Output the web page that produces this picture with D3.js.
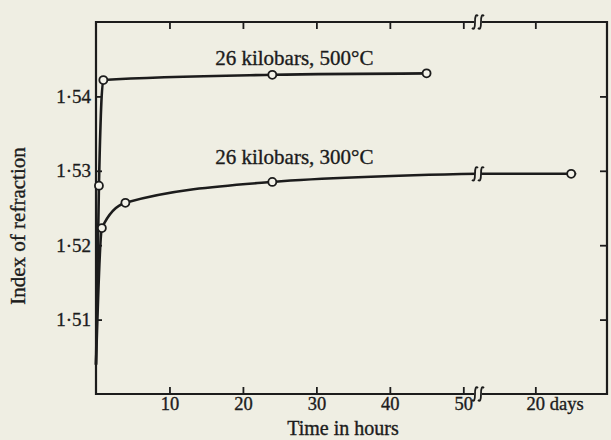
<!DOCTYPE html>
<html><head><meta charset="utf-8">
<script src="https://cdn.jsdelivr.net/npm/d3@7/dist/d3.min.js"></script>
<style>
html,body{margin:0;padding:0;background:#efeee3;}
svg{display:block;}
text{font-family:"Liberation Serif","Times New Roman",serif;fill:#1c1c1c;stroke:#1c1c1c;stroke-width:0.35px;}
</style></head>
<body><svg id="c" width="611" height="440"></svg>
<script>
// ---- data ----
const hourTicks = [10, 20, 30, 40, 50];
const dayTicks = [20];
const indexTicks = [1.51, 1.52, 1.53, 1.54];
// [hours, index, marked]
const series500 = [[0, 1.504, false], [0.4, 1.528, true], [1, 1.5422, true], [24, 1.5429, true], [45, 1.5431, true]];
const series300Hours = [[0, 1.504, false], [0.8, 1.5223, true], [4, 1.5257, true], [24, 1.5285, true], [52, 1.5296, false]];
// [days, index, marked]
const series300Days = [[12, 1.5296, false], [25, 1.5296, true]];
const label500 = "26 kilobars, 500°C";
const label300 = "26 kilobars, 300°C";
const xTitle = "Time in hours";
const yTitle = "Index of refraction";

// ---- layout ----
const L = 96, T = 22, R = 607, B = 394, BRK = 478;
const ink = "#1c1c1c";
const paper = "#efeee3";
const svg = d3.select("#c");
svg.append("rect").attr("width", 611).attr("height", 440).attr("fill", paper);

const x = d3.scaleLinear().domain([0, 52]).range([L, BRK]);
const xd = d3.scaleLinear().domain([12, 30]).range([BRK, R]);
const y = d3.scaleLinear().domain([1.50, 1.55]).range([B, T]);

const fmtIdx = d => d.toFixed(2).replace(".", "·");

function styleAxis(g, size) {
  g.select(".domain").remove();
  g.selectAll("line").attr("stroke", ink).attr("stroke-width", 1.8);
  g.selectAll("text").attr("font-size", size || 19).attr("font-family", "Liberation Serif").attr("fill", ink);
}
svg.append("g").attr("transform", `translate(${L},0)`)
  .call(d3.axisLeft(y).tickValues(indexTicks).tickSizeInner(-6).tickSizeOuter(0).tickPadding(5).tickFormat(fmtIdx))
  .call(styleAxis, 19);
svg.append("g").attr("transform", `translate(${R},0)`)
  .call(d3.axisRight(y).tickValues(indexTicks).tickSizeInner(-7).tickSizeOuter(0).tickFormat(""))
  .call(styleAxis);
svg.append("g").attr("transform", `translate(0,${B})`)
  .call(d3.axisBottom(x).tickValues(hourTicks).tickSizeInner(-7).tickSizeOuter(0).tickPadding(3))
  .call(styleAxis, 18.5);
const dayAx = svg.append("g").attr("transform", `translate(0,${B})`)
  .call(d3.axisBottom(xd).tickValues(dayTicks).tickSizeInner(-7).tickSizeOuter(0).tickPadding(3).tickFormat(d => d + " days"))
  .call(styleAxis, 18.5);
dayAx.selectAll(".tick text").each(function(d) {
  const t = d3.select(this);
  const tmp = svg.append("text").attr("font-size", 18.5).text(String(d));
  const w = tmp.node().getComputedTextLength(); tmp.remove();
  t.attr("text-anchor", "start").attr("x", -w / 2);
});
svg.append("g").attr("transform", `translate(0,${T})`)
  .call(d3.axisBottom(x).tickValues(hourTicks).tickSizeInner(7).tickSizeOuter(0).tickFormat(""))
  .call(styleAxis);
svg.append("g").attr("transform", `translate(0,${T})`)
  .call(d3.axisBottom(xd).tickValues(dayTicks).tickSizeInner(7).tickSizeOuter(0).tickFormat(""))
  .call(styleAxis);

// frame with breaks
const frame = svg.append("g").attr("stroke", ink).attr("stroke-width", 2.2).attr("fill", "none");
frame.append("line").attr("x1", L).attr("y1", T - 1).attr("x2", L).attr("y2", B + 1);
frame.append("line").attr("x1", R).attr("y1", T - 1).attr("x2", R).attr("y2", B + 1);
[T, B].forEach(yy => {
  frame.append("line").attr("x1", L).attr("y1", yy).attr("x2", BRK - 4).attr("y2", yy);
  frame.append("line").attr("x1", BRK + 4).attr("y1", yy).attr("x2", R).attr("y2", yy);
});
function breakMark(cx, cy) {
  const g = svg.append("g").attr("stroke", ink).attr("stroke-width", 1.8).attr("fill", "none");
  [-3, 3].forEach(dx => {
    const c = cx + dx;
    g.append("path").attr("d", `M${c - 3},${cy + 6} Q${c},${cy + 9} ${c},${cy} Q${c},${cy - 9} ${c + 3},${cy - 6}`);
  });
}
breakMark(BRK, T);
breakMark(BRK, B);

// series
const lineH = d3.line().x(d => x(d[0])).y(d => y(d[1])).curve(d3.curveMonotoneX);
const lineD = d3.line().x(d => xd(d[0])).y(d => y(d[1]));
const lines = svg.append("g").attr("stroke", ink).attr("stroke-width", 2.6).attr("fill", "none").attr("stroke-linecap", "round");
lines.append("path").attr("d", lineH(series500));
lines.append("path").attr("d", lineH(series300Hours));
lines.append("path").attr("d", lineD(series300Days)).attr("transform", "translate(4,0)");
const brkY = y(series300Hours[series300Hours.length - 1][1]);
svg.append("rect").attr("x", BRK - 3).attr("y", brkY - 3).attr("width", 6).attr("height", 6).attr("fill", paper);
breakMark(BRK, brkY);

const pts = svg.append("g").attr("fill", "#f4f3ea").attr("stroke", ink).attr("stroke-width", 1.8);
pts.selectAll(".a").data(series500.filter(d => d[2])).join("circle")
  .attr("cx", d => x(d[0])).attr("cy", d => y(d[1])).attr("r", 4);
pts.selectAll(".b").data(series300Hours.filter(d => d[2])).join("circle")
  .attr("cx", d => x(d[0])).attr("cy", d => y(d[1])).attr("r", 4);
pts.selectAll(".c").data(series300Days.filter(d => d[2])).join("circle")
  .attr("cx", d => xd(d[0])).attr("cy", d => y(d[1])).attr("r", 4);

// labels
svg.append("text").attr("x", x(27)).attr("y", y(1.5442)).attr("text-anchor", "middle").attr("font-size", 21).text(label500);
svg.append("text").attr("x", x(27)).attr("y", y(1.5309)).attr("text-anchor", "middle").attr("font-size", 21).text(label300);
svg.append("text").attr("x", 343).attr("y", 435).attr("text-anchor", "middle").attr("font-size", 20).text(xTitle);
svg.append("text").attr("transform", "translate(25,226) rotate(-90)").attr("text-anchor", "middle").attr("font-size", 21).text(yTitle);
</script></body></html>
